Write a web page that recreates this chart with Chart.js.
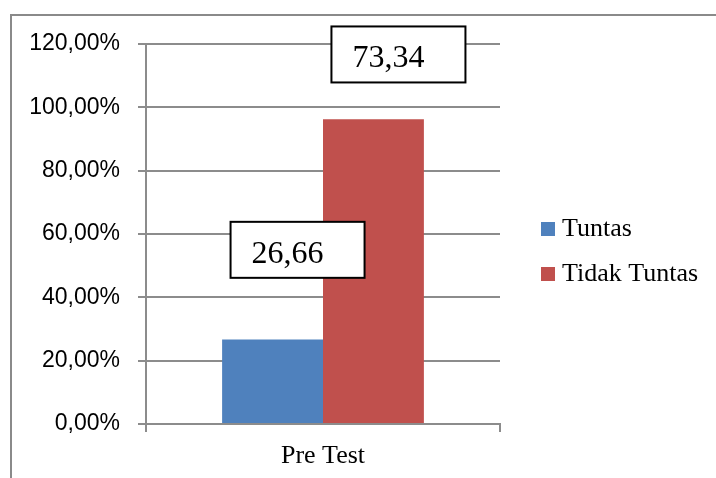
<!DOCTYPE html>
<html>
<head>
<meta charset="utf-8">
<script src="https://cdn.jsdelivr.net/npm/chart.js@4"></script>
<style>
  html, body { margin: 0; padding: 0; background: #ffffff; }
  #wrap { position: relative; width: 716px; height: 478px; overflow: hidden; background: #ffffff; }
  #frame { position: absolute; left: 10px; top: 14px; width: 900px; height: 700px; border: 2px solid #8a8a8a; box-sizing: border-box; }
  #c { position: absolute; left: 0; top: 0; }
</style>
</head>
<body>
<div id="wrap">
  <div id="frame"></div>
  <canvas id="c" width="716" height="478"></canvas>
</div>
<script>
// ---- data ----
const categories = ['Pre Test'];
const seriesNames = ['Tuntas', 'Tidak Tuntas'];
const tuntasValues = [26.66];
const tidakTuntasValues = [96.2];
const seriesColors = ['#4f81bd', '#c0504d'];
const boxLabels = ['26,66', '73,34'];
const boxAnchorValues = [55, 116.7];   // value-axis position of each text box centre
const yMin = 0, yMax = 120, yStep = 20;

const AXIS_GREY = '#8c8c8c';

const textBoxes = {
  id: 'textBoxes',
  afterDatasetsDraw(chart) {
    const ctx = chart.ctx;
    const yScale = chart.scales.y;
    ctx.save();
    chart.data.datasets.forEach((ds, i) => {
      const bar = chart.getDatasetMeta(i).data[0];
      const cx = bar.x + 25;
      const cy = yScale.getPixelForValue(boxAnchorValues[i]);
      const w = 134, h = 56;
      const x0 = cx - w / 2, y0 = cy - h / 2;
      ctx.fillStyle = '#ffffff';
      ctx.fillRect(x0, y0, w, h);
      ctx.strokeStyle = '#000000';
      ctx.lineWidth = 2;
      ctx.strokeRect(x0, y0, w, h);
      ctx.fillStyle = '#000000';
      ctx.font = '32px "Liberation Serif", "Times New Roman", serif';
      ctx.textAlign = 'left';
      ctx.textBaseline = 'alphabetic';
      ctx.fillText(boxLabels[i], x0 + 21, y0 + 41);
    });
    ctx.restore();
  }
};

const sideLegend = {
  id: 'sideLegend',
  afterDraw(chart) {
    const ctx = chart.ctx;
    ctx.save();
    ctx.font = '26px "Liberation Serif", "Times New Roman", serif';
    ctx.textAlign = 'left';
    ctx.textBaseline = 'alphabetic';
    chart.data.datasets.forEach((ds, i) => {
      const y = 222 + i * 45;
      ctx.fillStyle = ds.backgroundColor;
      ctx.fillRect(541, y, 14, 14);
      ctx.fillStyle = '#000000';
      ctx.fillText(ds.label, 562, y + 14);
    });
    ctx.restore();
  }
};

new Chart(document.getElementById('c'), {
  type: 'bar',
  data: {
    labels: categories,
    datasets: [
      { label: seriesNames[0], data: tuntasValues, backgroundColor: seriesColors[0] },
      { label: seriesNames[1], data: tidakTuntasValues, backgroundColor: seriesColors[1] }
    ]
  },
  options: {
    responsive: false,
    devicePixelRatio: 1,
    animation: false,
    categoryPercentage: 0.57,
    barPercentage: 1.0,
    layout: { padding: { left: 0, right: 216, top: 44, bottom: 0 } },
    plugins: {
      legend: { display: false },
      tooltip: { enabled: false }
    },
    scales: {
      x: {
        grid: { display: true, drawOnChartArea: false, drawTicks: true, tickLength: 8, color: AXIS_GREY, lineWidth: 2, offset: true },
        border: { display: true, color: AXIS_GREY, width: 2 },
        ticks: { color: '#000000', font: { family: '"Liberation Serif", "Times New Roman", serif', size: 26 }, padding: 9 },
        afterFit(s) { s.height = 54; }
      },
      y: {
        min: yMin, max: yMax,
        ticks: {
          stepSize: yStep,
          padding: 18,
          color: '#000000',
          font: { family: '"Liberation Sans", Arial, sans-serif', size: 23 },
          callback: v => v.toFixed(2).replace('.', ',') + '%'
        },
        grid: { color: AXIS_GREY, lineWidth: 2, tickLength: 8, drawTicks: true },
        border: { display: true, color: AXIS_GREY, width: 2 },
        afterFit(s) { s.width = 146; }
      }
    }
  },
  plugins: [textBoxes, sideLegend]
});
</script>
</body>
</html>
